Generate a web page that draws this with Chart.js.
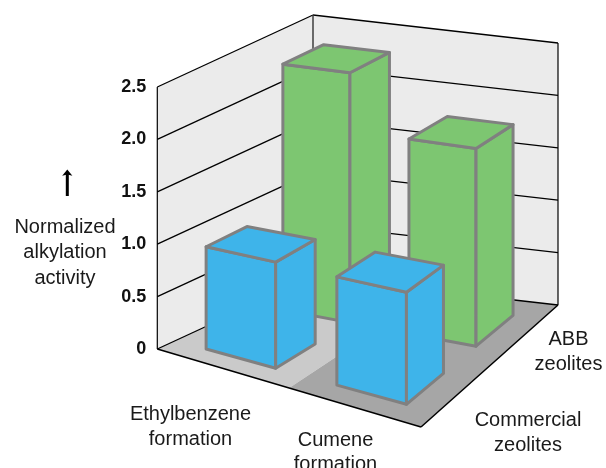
<!DOCTYPE html>
<html>
<head>
<meta charset="utf-8">
<title>Normalized alkylation activity</title>
<script src="https://cdn.jsdelivr.net/npm/chart.js@4"></script>
<style>
    html, body { margin: 0; padding: 0; background: #fff; overflow: hidden; }
    canvas { display: block; }
</style>
</head>
<body>
<canvas id="activityChart" width="606" height="468"></canvas>
<script>
const categories = ['Ethylbenzene formation', 'Cumene formation'];
const zeolites = ['Commercial zeolites', 'ABB zeolites'];
const abbValues = [2.33, 1.79];
const commercialValues = [0.96, 0.95];
const yTicks = [0, 0.5, 1.0, 1.5, 2.0, 2.5];

const FONT = '"Liberation Sans", Arial, sans-serif';
const BAR_HALF = 0.133;          // half a bar's footprint, in floor units
const NEAR_GAIN = 0.16;          // bars grow a little towards the front corner

// floor corners relative to the bottom-left of the chart area
const floorFront = { x: 263.7, y: 78 };
const floorBack = { x: 155.7, y: -72 };
const floorRight = { x: 400.7, y: -44 };

// u runs along the category edge, v from the front row to the back wall
function floorPoint(area, u, v) {
    const ox = (1 - v) * u * floorFront.x + v * (1 - u) * floorBack.x + u * v * floorRight.x;
    const oy = (1 - v) * u * floorFront.y + v * (1 - u) * floorBack.y + u * v * floorRight.y;
    return { x: area.left + ox, y: area.bottom + oy };
}

function polygon(ctx, points, fill, stroke, lineWidth) {
    ctx.beginPath();
    points.forEach((p, i) => i ? ctx.lineTo(p.x, p.y) : ctx.moveTo(p.x, p.y));
    ctx.closePath();
    if (fill) {
        ctx.fillStyle = fill;
        ctx.fill();
    }
    if (stroke) {
        ctx.strokeStyle = stroke;
        ctx.lineWidth = lineWidth;
        ctx.lineJoin = 'round';
        ctx.stroke();
    }
}

function segment(ctx, a, b, color, width) {
    ctx.beginPath();
    ctx.moveTo(a.x, a.y);
    ctx.lineTo(b.x, b.y);
    ctx.strokeStyle = color;
    ctx.lineWidth = width;
    ctx.stroke();
}

function textLines(ctx, lines, x, y, lineHeight) {
    lines.forEach((line, i) => ctx.fillText(line, x, y + i * lineHeight));
}

const raised = (p, h) => ({ x: p.x, y: p.y - h });

const roomPlugin = {
    id: 'room',
    beforeDatasetsDraw(chart) {
        const { ctx, chartArea: area, scales } = chart;
        const L = floorPoint(area, 0, 0), F = floorPoint(area, 1, 0);
        const R = floorPoint(area, 1, 1), B = floorPoint(area, 0, 1);
        const midFront = floorPoint(area, 0.5, 0), midBack = floorPoint(area, 0.5, 1);
        const wall = scales.y.getPixelForValue(0) - scales.y.getPixelForValue(2.5);

        ctx.save();
        polygon(ctx, [L, raised(L, wall), raised(B, wall), B], '#ebebeb');
        polygon(ctx, [B, raised(B, wall), raised(R, wall), R], '#ebebeb');
        polygon(ctx, [L, midFront, midBack, B], '#cacaca');
        polygon(ctx, [midFront, F, R, midBack], '#a6a6a6');

        // gridlines fold round the back corner
        scales.y.ticks.forEach(tick => {
            const h = scales.y.getPixelForValue(0) - scales.y.getPixelForValue(tick.value);
            segment(ctx, raised(L, h), raised(B, h), '#000', 1.3);
            segment(ctx, raised(B, h), raised(R, h), '#000', 1.3);
        });
        segment(ctx, L, raised(L, wall), '#000', 1.2);
        segment(ctx, R, raised(R, wall), '#000', 1.2);
        segment(ctx, B, raised(B, wall), '#333', 1.4);
        segment(ctx, L, F, '#000', 1.5);
        segment(ctx, F, R, '#000', 1.5);
        ctx.restore();
    },
    afterDatasetsDraw(chart) {
        const { ctx, chartArea: area, scales } = chart;

        ctx.save();
        chart.data.datasets.forEach((dataset, d) => {
            const depthPx = scales.z.getPixelForValue(zeolites.indexOf(dataset.label));
            const v = (depthPx - scales.z.left) / scales.z.width;
            chart.getDatasetMeta(d).data.forEach((bar, i) => {
                const u = (scales.x.getPixelForValue(i) - scales.x.left) / scales.x.width;
                const corner = (su, sv) => {
                    const cu = u + su * BAR_HALF, cv = v + sv * BAR_HALF;
                    const gain = 1 + NEAR_GAIN * cu * (1 - cv);
                    const base = floorPoint(area, cu, cv);
                    return { base, top: raised(base, (bar.base - bar.y) * gain) };
                };
                const left = corner(-1, -1), front = corner(1, -1), right = corner(1, 1), back = corner(-1, 1);
                const stroke = '#808080', lw = 3;
                polygon(ctx, [left.base, front.base, front.top, left.top], dataset.faceColor, stroke, lw);
                polygon(ctx, [front.base, right.base, right.top, front.top], dataset.faceColor, stroke, lw);
                polygon(ctx, [left.top, front.top, right.top, back.top], dataset.faceColor, stroke, lw);
            });
        });

        // axis name, arrow and the floor labels
        ctx.fillStyle = '#1a1a1a';
        ctx.textAlign = 'center';
        ctx.textBaseline = 'middle';
        ctx.font = '20px ' + FONT;
        textLines(ctx, ['Normalized', 'alkylation', 'activity'], 65, 227, 25.5);
        textLines(ctx, categories[0].split(' '), 190.5, 414.5, 24.5);
        textLines(ctx, categories[1].split(' '), 335.5, 440, 24.5);
        textLines(ctx, zeolites[1].split(' '), 568.5, 339, 25);
        textLines(ctx, zeolites[0].split(' '), 528, 420, 25);

        segment(ctx, { x: 67.3, y: 196 }, { x: 67.3, y: 173 }, '#000', 3);
        polygon(ctx, [{ x: 67.3, y: 169.5 }, { x: 72.4, y: 175.8 }, { x: 67.3, y: 174.5 }, { x: 62.2, y: 175.8 }], '#000');
        ctx.restore();
    }
};

new Chart(document.getElementById('activityChart'), {
    type: 'bar',
    plugins: [roomPlugin],
    data: {
        labels: categories,
        // back row first, the front row paints over it
        datasets: [
            { label: zeolites[1], data: abbValues, backgroundColor: 'transparent', faceColor: '#7dc671' },
            { label: zeolites[0], data: commercialValues, backgroundColor: 'transparent', faceColor: '#3eb4ea' }
        ]
    },
    options: {
        responsive: false,
        animation: false,
        layout: { padding: { left: 107.3, right: 48, top: 87, bottom: 119 } },
        plugins: {
            legend: { display: false },
            tooltip: { enabled: false },
            title: { display: false }
        },
        scales: {
            x: { type: 'category', labels: categories, offset: true, display: false },
            z: { type: 'category', axis: 'x', labels: zeolites, offset: true, display: false },
            y: {
                min: 0,
                max: 2.5,
                afterBuildTicks(scale) {
                    scale.ticks = yTicks.map(value => ({ value }));
                },
                afterFit(scale) {
                    scale.width = 50;
                    scale.paddingTop = 0;
                    scale.paddingBottom = 0;
                },
                border: { display: false },
                grid: { display: false, drawTicks: false },
                ticks: {
                    padding: 11,
                    color: '#111',
                    font: { family: FONT, size: 18, weight: 'bold' },
                    callback: value => value === 0 ? '0' : value.toFixed(1)
                }
            }
        }
    }
});
</script>
</body>
</html>
